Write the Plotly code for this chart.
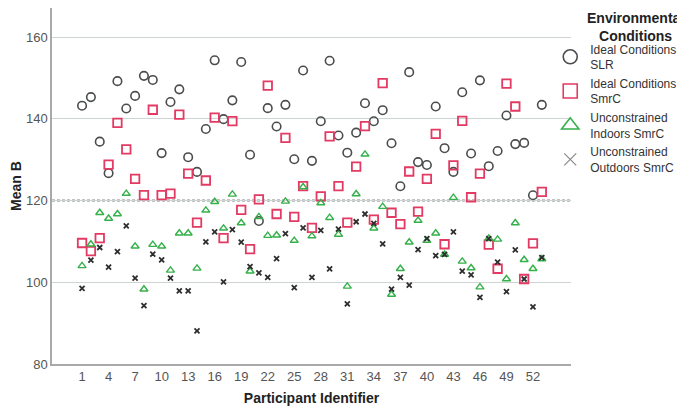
import plotly.graph_objects as go

# participant ids 1..53
participants = list(range(1, 54))

ideal_slr = [143.2, 145.3, 134.4, 126.7, 149.2, 142.5, 145.6, 150.5, 149.5, 131.6,
             144.1, 147.2, 130.6, 127.0, 137.5, 154.3, 139.9, 144.5, 153.9, 131.2,
             115.0, 142.6, 138.1, 143.4, 130.1, 151.8, 129.7, 139.4, 154.2, 135.9,
             131.7, 136.6, 143.8, 139.4, 142.1, 134.0, 123.5, 151.4, 129.4, 128.7,
             143.0, 132.8, 127.0, 146.5, 131.5, 149.4, 128.4, 132.1, 140.8, 133.8,
             134.1, 121.3, 143.4]

ideal_smrc = [109.6, 107.6, 110.8, 128.8, 139.0, 132.5, 125.3, 121.3, 142.2, 121.3,
              121.7, 141.0, 126.6, 114.6, 124.9, 140.3, 110.8, 139.4, 117.7, 108.1,
              120.3, 148.1, 116.7, 135.3, 116.0, 123.5, 113.3, 121.0, 135.7, 123.5,
              114.6, 128.3, 138.2, 115.3, 148.7, 117.0, 114.2, 127.1, 117.3, 125.3,
              136.3, 109.3, 128.6, 139.5, 120.8, 126.6, 109.2, 103.3, 148.6, 143.0,
              100.8, 109.5, 122.1]

indoors_smrc = [104.0, 109.3, 117.0, 115.6, 116.7, 121.7, 108.8, 98.3, 109.2, 108.8,
                102.9, 112.0, 112.0, 103.4, 117.6, 119.7, 113.2, 121.5, 114.5, 102.7,
                116.0, 111.4, 111.5, 119.8, 110.2, 123.3, 111.3, 119.4, 115.8, 111.7,
                99.0, 121.6, 131.3, 113.2, 118.5, 97.0, 103.3, 109.8, 115.1, 110.2,
                112.0, 106.8, 120.7, 105.1, 103.5, 98.8, 110.7, 110.5, 100.8, 114.5,
                105.5, 103.3, 105.7]

outdoors_smrc = [98.5, 105.4, 108.5, 103.7, 107.5, 113.8, 101.0, 94.3, 106.9, 105.5,
                 101.0, 97.9, 97.9, 88.1, 109.9, 112.3, 100.1, 112.9, 109.8, 103.8,
                 102.3, 101.2, 105.8, 111.9, 98.7, 113.3, 101.2, 112.7, 103.3, 113.0,
                 94.7, 114.8, 116.7, 114.4, 109.4, 98.3, 101.2, 99.3, 108.0, 110.7,
                 106.5, 106.8, 112.3, 102.7, 101.8, 96.3, 110.7, 104.9, 97.7, 107.9,
                 100.8, 94.0, 106.0]

x_ticks = list(range(1, 53, 3))
y_ticks = [80, 100, 120, 140, 160]

series = [
    ("Ideal Conditions<br>SLR", ideal_slr, "circle-open", "#4a4d4c", 8.5, 1.6, 14),
    ("Ideal Conditions<br>SmrC", ideal_smrc, "square-open", "#e23a62", 8.5, 1.8, 14),
    ("Unconstrained<br>Indoors SmrC", indoors_smrc, "triangle-up-open", "#35b04a", 7, 1.4, 15),
    ("Unconstrained<br>Outdoors SmrC", outdoors_smrc, "x-thin", "#2e2e2e", 5, 1.8, 12),
]

fig = go.Figure()

for name, vals, sym, col, size, lw, lsize in series:
    fig.add_trace(go.Scatter(x=participants, y=vals, mode="markers", showlegend=False,
                             marker=dict(symbol=sym, size=size, color=col,
                                         line=dict(color=col, width=lw))))

# larger symbols for the legend only
for name, vals, sym, col, size, lw, lsize in series:
    lcol = "#8a8a8a" if sym == "x-thin" else col
    fig.add_trace(go.Scatter(x=[None], y=[None], mode="markers", name=name,
                             marker=dict(symbol=sym, size=lsize, color=lcol,
                                         line=dict(color=lcol, width=1.2 if sym == "x-thin" else 1.6))))

# reference line at 120
fig.add_shape(type="line", xref="paper", x0=0, x1=1, yref="y", y0=120, y1=120,
              line=dict(color="#111111", width=1.5, dash="3px,2px"), layer="between")

# legend title
fig.add_annotation(text="<b>Environmental<br>Conditions</b>", xref="paper", yref="paper",
                   x=1.125, y=1.0, xanchor="center", yanchor="top", showarrow=False,
                   align="center", font=dict(size=14, color="#222222"))

# page body has an 8px margin, so the figure is 8px smaller than the window
fig.update_layout(
    width=677, height=402,
    margin=dict(l=44, r=114, t=0, b=46, autoexpand=False),
    paper_bgcolor="white", plot_bgcolor="white",
    font=dict(family="Liberation Sans, Arial, sans-serif", size=13, color="#555555"),
    legend=dict(
        x=0.96, xanchor="left", y=0.925, yanchor="top",
        font=dict(size=12, color="#333333"),
        tracegroupgap=0, itemwidth=30, bgcolor="rgba(0,0,0,0)",
    ),
    xaxis=dict(
        range=[-2.4, 56.3], tickvals=x_ticks, showgrid=False, zeroline=False,
        showline=True, linecolor="#a8aaaa", linewidth=1.5, ticks="",
        tickfont=dict(size=13, color="#555555"),
        title=dict(text="<b>Participant Identifier</b>", font=dict(size=14, color="#222222"),
                   standoff=10),
    ),
    yaxis=dict(
        range=[80, 167.1], tickvals=y_ticks, showgrid=True, gridcolor="#cdd4d3", gridwidth=1,
        zeroline=False, showline=True, linecolor="#a8aaaa", linewidth=1.5, ticks="",
        tickfont=dict(size=13, color="#555555"),
        title=dict(text="<b>Mean B</b>", font=dict(size=14, color="#222222"), standoff=2),
    ),
)

fig.write_html("out.html")
